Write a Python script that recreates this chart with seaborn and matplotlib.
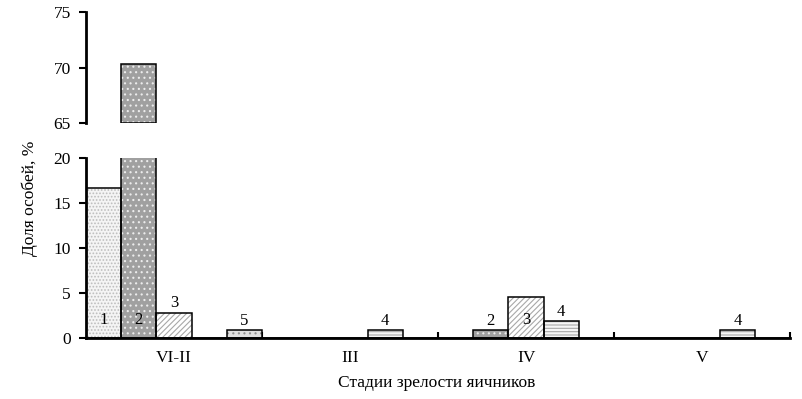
import pandas as pd
import numpy as np
import matplotlib
matplotlib.use('Agg')
import matplotlib.pyplot as plt
from matplotlib.patches import Rectangle
import seaborn as sns

# Данные
stages = ['VI-II', 'III', 'IV', 'V']
series = ['1', '2', '3', '4', '5']
values = {
    '1': [16.7, 0.0, 0.0, 0.0],
    '2': [70.3, 0.0, 0.9, 0.0],
    '3': [2.8, 0.0, 4.6, 0.0],
    '4': [0.0, 0.9, 1.9, 0.9],
    '5': [0.9, 0.0, 0.0, 0.0],
}
y_low = (0, 20)
y_high = (65, 75)

df = pd.DataFrame([
    {'stage': st, 'series': s, 'value': values[s][i]}
    for s in series for i, st in enumerate(stages)
])

# Стиль
sns.set_style('white', rc={'text.color': 'black', 'axes.labelcolor': 'black',
                           'xtick.color': 'black', 'ytick.color': 'black',
                           'axes.edgecolor': 'black'})
plt.rcParams['font.family'] = ['Liberation Serif', 'DejaVu Serif']
plt.rcParams['font.size'] = 12.5
plt.rcParams['hatch.linewidth'] = 0.8

faces = ['#f4f4f4', '#a0a0a0', '#ffffff', '#f6f6f6', '#e0e0e0']
hatches = ['.....', '...', '//////', '-----', '...']
hatch_cols = ['#bdbdbd', '#ececec', '#a8a8a8', '#a8a8a8', '#909090']

fig = plt.figure(figsize=(8.02, 3.99), dpi=100)
ax_lo = fig.add_axes([0.1072, 0.1529, 0.878, 0.451])
ax_hi = fig.add_axes([0.1072, 0.6917, 0.878, 0.278])


def style_bars(ax):
    # штриховка цветом заливки, чёрный контур поверх
    for k, cont in enumerate(ax.containers):
        for p in cont.patches:
            if not p.get_visible():
                continue
            p.set_facecolor(faces[k])
            p.set_hatch(hatches[k])
            p.set_edgecolor(hatch_cols[k])
            p.set_linewidth(0)
            ax.add_patch(Rectangle((p.get_x(), p.get_y()), p.get_width(), p.get_height(),
                                   facecolor='none', edgecolor='black', linewidth=1.1,
                                   zorder=p.get_zorder() + 0.1))


for ax in (ax_lo, ax_hi):
    sns.barplot(data=df, x='stage', y='value', hue='series', hue_order=series,
                width=1, gap=0, ax=ax, legend=False, errorbar=None,
                palette=faces)
    ax.set_xlim(-0.5, len(stages) - 0.5)
    ax.set_xlabel('')
    ax.set_ylabel('')
    for side in ['top', 'right']:
        ax.spines[side].set_visible(False)
    ax.spines['left'].set_linewidth(2)
    ax.tick_params(axis='y', direction='out', length=5, width=1.5, pad=6,
                   left=True, labelsize=12.5, colors='black')

# Нижняя часть оси
ax_lo.set_ylim(*y_low)
ax_lo.set_yticks([0, 5, 10, 15, 20])
ax_lo.spines['bottom'].set_linewidth(2)
ax_lo.set_xticks(range(len(stages)))
ax_lo.set_xticklabels(stages)
ax_lo.tick_params(axis='x', length=0, pad=9, labelsize=12.5, colors='black')
ax_lo.set_xticks(np.arange(len(stages)) + 0.5, minor=True)
ax_lo.tick_params(axis='x', which='minor', direction='in', length=4, width=1.5,
                  bottom=True, color='black')

# Верхняя часть оси: столбец начинается от разрыва
ax_hi.set_ylim(*y_high)
ax_hi.set_yticks([65, 70, 75])
ax_hi.spines['bottom'].set_visible(False)
ax_hi.set_xticks([])
for p in ax_hi.patches:
    h = p.get_height()
    if h > y_high[0]:
        p.set_y(y_high[0])
        p.set_height(h - y_high[0])
    else:
        p.set_visible(False)

style_bars(ax_lo)
style_bars(ax_hi)

# Подписи номеров столбцов
for k, cont in enumerate(ax_lo.containers):
    for p, v in zip(cont.patches, values[series[k]]):
        if v <= 0:
            continue
        xc = p.get_x() + p.get_width() / 2
        if v > 4:
            ax_lo.text(xc, 2.0, series[k], ha='center', va='center', fontsize=12,
                       color='black', zorder=5)
        else:
            ax_lo.text(xc, v + 0.15, series[k], ha='center', va='bottom', fontsize=12,
                       color='black', zorder=5)

fig.text(0.037, 0.504, 'Доля особей, %', rotation=90, ha='center', va='center',
         fontsize=12.5, color='black')
fig.text(0.545, 0.04, 'Стадии зрелости яичников', ha='center', va='center',
         fontsize=12.5, color='black')

fig.savefig('out.png', dpi=100)
